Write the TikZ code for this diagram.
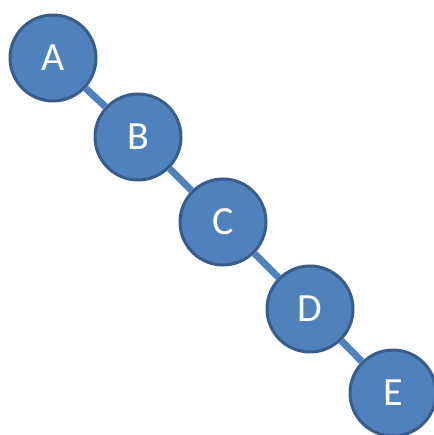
\documentclass[tikz,border=0pt]{standalone}
\usepackage{fontspec}
\setmainfont{Carlito}
\definecolor{nodefill}{HTML}{4F81BD}
\definecolor{nodeline}{HTML}{385D8A}
\tikzset{vertex/.style={circle, draw=nodeline, fill=nodefill, line width=3pt, minimum size=86pt, inner sep=0pt, text=white, font=\fontsize{40}{40}\selectfont},
  link/.style={draw=nodefill, line width=7pt}}
\begin{document}
\begin{tikzpicture}[x=1pt, y=-1pt]
            \useasboundingbox (0,0) rectangle (433,435);
            %nodes
            \node[vertex] (a) at (53, 58) {A};
            \node[vertex] (b) at (138, 137) {B};
            \node[vertex] (c) at (223, 222) {C};
            \node[vertex] (d) at (310, 309) {D};
            \node[vertex] (e) at (393, 393) {E};

            %edges
            \draw[link] (a) -- (b);
            \draw[link] (b) -- (c);
            \draw[link] (c) -- (d);
            \draw[link] (d) -- (e);
        \end{tikzpicture}
\end{document}
